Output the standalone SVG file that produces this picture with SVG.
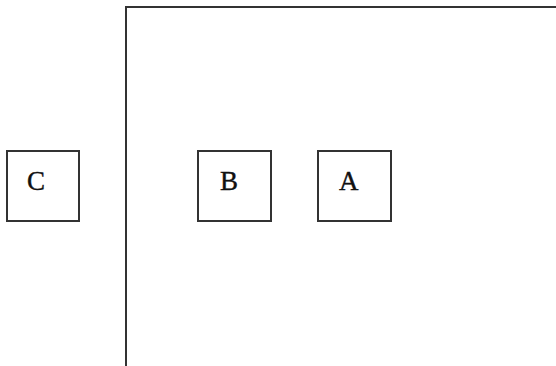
<svg xmlns="http://www.w3.org/2000/svg" width="556" height="366" viewBox="0 0 556 366">
<style>
.box{fill:#fff;stroke:#333;stroke-width:2}
.lbl{font-family:"Liberation Serif",serif;font-size:27px;fill:#111;stroke:#111;stroke-width:0.4}
.line{fill:none;stroke:#333;stroke-width:2}
</style>
<rect width="556" height="366" fill="#fff"/>
<g id="connectors">
<path class="line" d="M126,366 V7 H556"/>
</g>
<g id="nodeC"><rect class="box" x="7" y="151" width="72" height="70"/><text class="lbl" x="27" y="190">C</text></g>
<g id="nodeB"><rect class="box" x="198" y="151" width="73" height="70"/><text class="lbl" x="220" y="190">B</text></g>
<g id="nodeA"><rect class="box" x="318" y="151" width="73" height="70"/><text class="lbl" x="339" y="190">A</text></g>
</svg>
